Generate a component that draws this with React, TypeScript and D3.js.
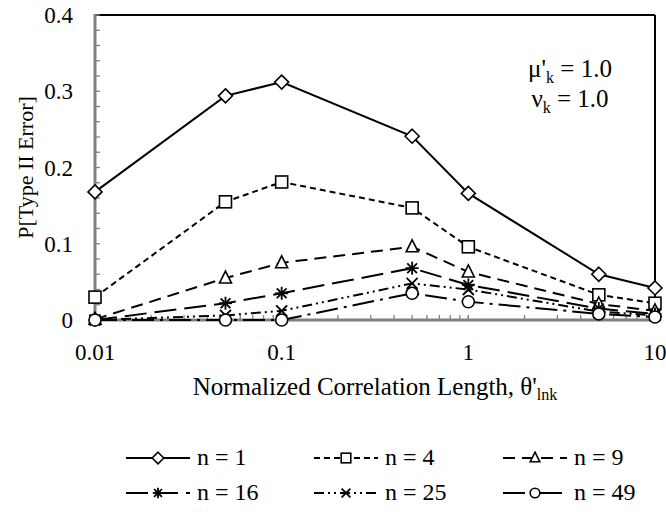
import React from "react";
import * as d3 from "d3";

const xValues = [0.01, 0.05, 0.1, 0.5, 1, 5, 10];
const seriesNames = ["n = 1", "n = 4", "n = 9", "n = 16", "n = 25", "n = 49"];
const n1 = [0.168, 0.294, 0.312, 0.241, 0.166, 0.06, 0.042];
const n4 = [0.03, 0.155, 0.181, 0.147, 0.096, 0.033, 0.022];
const n9 = [0.001, 0.055, 0.075, 0.096, 0.063, 0.021, 0.012];
const n16 = [0.0, 0.022, 0.035, 0.068, 0.046, 0.015, 0.008];
const n25 = [0.0, 0.006, 0.012, 0.048, 0.04, 0.011, 0.006];
const n49 = [0.0, 0.0, 0.0, 0.035, 0.024, 0.008, 0.004];
const seriesValues = [n1, n4, n9, n16, n25, n49];
const markers = ["diamond", "square", "triangle", "asterisk", "cross", "circle"];
const dashes = ["none", "6,4", "12,7", "22,8", "10,4,2,4,2,4", "22,6,3,6"];
const yTicks = [0, 0.1, 0.2, 0.3, 0.4];
const xTicks = [0.01, 0.1, 1, 10];
const xTickLabels = ["0.01", "0.1", "1", "10"];

const FONT = '"Liberation Serif", "Times New Roman", "DejaVu Serif", serif';
const W = 666;
const H = 512;
const L = 95, R = 655, T = 15, B = 320;
const tf = { fontFamily: FONT } as any;

function Marker({ type, x, y, k = 1 }: { type: string; x: number; y: number; k?: number }) {
  const s = 6 * k;
  const st = { fill: "white", stroke: "black", strokeWidth: 1.6 } as any;
  if (type === "diamond")
    return <path d={`M${x},${y - s - 1}L${x + s + 1},${y}L${x},${y + s + 1}L${x - s - 1},${y}Z`} {...st} />;
  if (type === "square") return <rect x={x - s} y={y - s} width={2 * s} height={2 * s} {...st} />;
  if (type === "triangle")
    return <path d={`M${x},${y - s - 1}L${x + s},${y + s - 1}L${x - s},${y + s - 1}Z`} {...st} />;
  if (type === "circle") return <circle cx={x} cy={y} r={s} {...st} />;
  if (type === "asterisk") {
    const a = 6.5 * k;
    return (
      <g stroke="black" strokeWidth={1.8}>
        <line x1={x - a} y1={y} x2={x + a} y2={y} />
        <line x1={x} y1={y - a} x2={x} y2={y + a} />
        <line x1={x - a * 0.75} y1={y - a * 0.75} x2={x + a * 0.75} y2={y + a * 0.75} />
        <line x1={x - a * 0.75} y1={y + a * 0.75} x2={x + a * 0.75} y2={y - a * 0.75} />
      </g>
    );
  }
  if (type === "cross") {
    const a = 5.5 * k;
    return (
      <g stroke="black" strokeWidth={1.8}>
        <line x1={x - a} y1={y - a} x2={x + a} y2={y + a} />
        <line x1={x - a} y1={y + a} x2={x + a} y2={y - a} />
      </g>
    );
  }
  return null;
}

export default function App() {
  const x = d3.scaleLog().domain([0.01, 10]).range([L, R]);
  const y = d3.scaleLinear().domain([0, 0.4]).range([B, T]);
  const line = d3
    .line<number>()
    .x((_, i) => x(xValues[i]))
    .y((d) => y(d));

  const yMinor = d3.range(0, 0.4001, 0.02);
  const xMinor: number[] = [];
  [0.01, 0.1, 1].forEach((dec) => {
    for (let k = 1; k <= 10; k++) xMinor.push(dec * k);
  });

  const legendCols = [126, 314, 503];
  const legendRows = [458, 493];

  return (
    <svg width={W} height={H} style={{ position: "absolute", left: 0, top: 0, background: "white", fontFamily: FONT }}>
      <rect width={W} height={H} fill="white" />
      <line x1={L} y1={T} x2={R} y2={T} stroke="black" strokeWidth={2} />
      <line x1={R} y1={T} x2={R} y2={B} stroke="black" strokeWidth={2} />
      {yMinor.map((v, i) => (
        <line key={"ym" + i} x1={L} x2={L + 5} y1={y(v)} y2={y(v)} stroke="#808080" strokeWidth={1.3} />
      ))}
      {xMinor.map((v, i) => (
        <line key={"xm" + i} x1={x(v)} x2={x(v)} y1={B} y2={B - 5} stroke="#808080" strokeWidth={1.3} />
      ))}
      <line x1={L} y1={T - 1} x2={L} y2={B + 1.5} stroke="#808080" strokeWidth={3} />
      <line x1={L - 1.5} y1={B} x2={R + 1} y2={B} stroke="#808080" strokeWidth={3} />
      {yTicks.map((v) => (
        <text key={"yt" + v} x={73} y={y(v)} dy="0.35em" textAnchor="end" fontSize={23} style={tf}>
          {v === 0 ? "0" : v.toFixed(1)}
        </text>
      ))}
      {xTicks.map((v, i) => (
        <text key={"xt" + v} x={x(v)} y={360} textAnchor="middle" fontSize={23} style={tf}>
          {xTickLabels[i]}
        </text>
      ))}
      <text transform={`translate(33,${(T + B) / 2}) rotate(-90)`} textAnchor="middle" fontSize={22} style={tf}>
        P[Type II Error]
      </text>
      <text x={(L + R) / 2} y={395} textAnchor="middle" fontSize={25} style={tf}>
        Normalized Correlation Length, θ'
        <tspan fontSize={16} dy={5}>lnk</tspan>
      </text>
      <text x={570} y={77} textAnchor="middle" fontSize={25} style={tf}>
        μ'<tspan fontSize={16} dy={6}>k</tspan>
        <tspan dy={-6}> = 1.0</tspan>
      </text>
      <text x={570} y={107} textAnchor="middle" fontSize={25} style={tf}>
        ν<tspan fontSize={16} dy={6}>k</tspan>
        <tspan dy={-6}> = 1.0</tspan>
      </text>
      {seriesValues.map((vals, si) => (
        <path key={"s" + si} d={line(vals) || ""} fill="none" stroke="black" strokeWidth={2} strokeDasharray={dashes[si]} />
      ))}
      {seriesValues.map((vals, si) => (
        <g key={"m" + si}>
          {vals.map((v, i) => (
            <Marker key={i} type={markers[si]} x={x(xValues[i])} y={y(v)} />
          ))}
        </g>
      ))}
      {seriesNames.map((name, i) => {
        const cx = legendCols[i % 3];
        const cy = legendRows[Math.floor(i / 3)];
        return (
          <g key={"lg" + i}>
            <line x1={cx} x2={cx + 64} y1={cy} y2={cy} stroke="black" strokeWidth={2} strokeDasharray={dashes[i]} />
            <Marker type={markers[i]} x={cx + 32} y={cy} k={0.8} />
            <text x={cx + 71} y={cy + 7} fontSize={24} style={tf}>
              {name}
            </text>
          </g>
        );
      })}
    </svg>
  );
}
